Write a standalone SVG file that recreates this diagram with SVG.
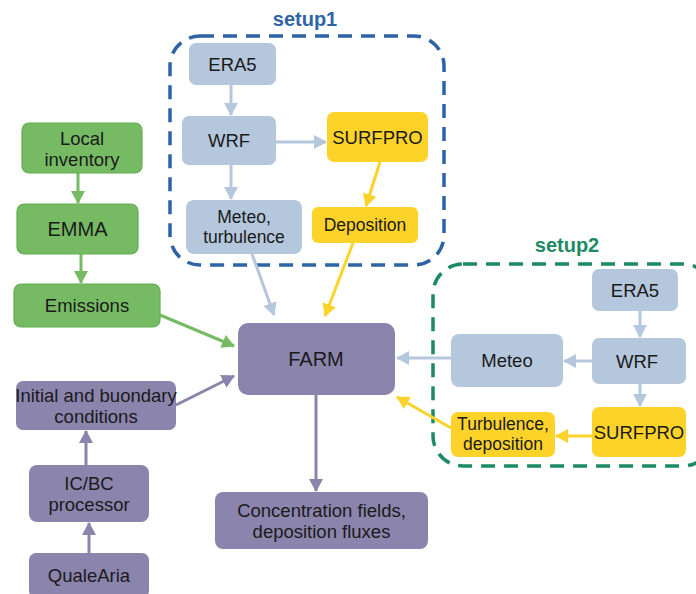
<svg xmlns="http://www.w3.org/2000/svg" width="696" height="594" viewBox="0 0 696 594">
<style>
text{font-family:"Liberation Sans",Arial,sans-serif;font-size:18.5px;fill:#1a1a1a;text-anchor:middle;dominant-baseline:central}
.t{font-weight:bold;font-size:20px}
.lb{fill:#b4c7dc}
.yl{fill:#fdd32a}
.gr{fill:#76bb64;stroke:#5fae4e;stroke-width:1.2}
.pu{fill:#8b84ad}
.cb{stroke:#b4c7dc;stroke-width:3;fill:none}
.cy{stroke:#fdd32a;stroke-width:3;fill:none}
.cg{stroke:#76bb64;stroke-width:3;fill:none}
.cp{stroke:#8b84ad;stroke-width:3;fill:none}
.dash{fill:none;stroke-width:3.5;stroke-dasharray:14 9}
</style>
<defs>
<marker id="ab" markerUnits="userSpaceOnUse" markerWidth="16" markerHeight="16" refX="12" refY="7" orient="auto"><path d="M0,0 L13,7 L0,14 Z" fill="#b4c7dc"/></marker>
<marker id="ay" markerUnits="userSpaceOnUse" markerWidth="16" markerHeight="16" refX="12" refY="7" orient="auto"><path d="M0,0 L13,7 L0,14 Z" fill="#fdd32a"/></marker>
<marker id="ag" markerUnits="userSpaceOnUse" markerWidth="16" markerHeight="16" refX="12" refY="7" orient="auto"><path d="M0,0 L13,7 L0,14 Z" fill="#76bb64"/></marker>
<marker id="ap" markerUnits="userSpaceOnUse" markerWidth="16" markerHeight="16" refX="12" refY="7" orient="auto"><path d="M0,0 L13,7 L0,14 Z" fill="#8b84ad"/></marker>
</defs>
<rect width="696" height="594" fill="#ffffff"/>

<g id="setup1">
<rect class="dash" x="170" y="36" width="274" height="229" rx="30" stroke="#2e64a6"/>
<text class="t" x="305" y="19" style="fill:#2e64a6">setup1</text>
</g>
<g id="setup2">
<rect class="dash" x="433" y="264" width="280" height="202" rx="30" stroke="#1c8a66"/>
<text class="t" x="567" y="245" style="fill:#1c8a66">setup2</text>
</g>

<g id="connectors">
<line class="cb" x1="231" y1="85" x2="231" y2="115" marker-end="url(#ab)"/>
<line class="cb" x1="276" y1="142" x2="326" y2="142" marker-end="url(#ab)"/>
<line class="cb" x1="231" y1="165" x2="231" y2="199" marker-end="url(#ab)"/>
<line class="cy" x1="380" y1="162" x2="366" y2="206" marker-end="url(#ay)"/>
<line class="cb" x1="252" y1="254" x2="274" y2="315" marker-end="url(#ab)"/>
<line class="cy" x1="353" y1="243" x2="325" y2="316" marker-end="url(#ay)"/>
<line class="cg" x1="78" y1="173" x2="78" y2="203" marker-end="url(#ag)"/>
<line class="cg" x1="81" y1="254" x2="81" y2="283" marker-end="url(#ag)"/>
<line class="cg" x1="160" y1="315" x2="234" y2="346" marker-end="url(#ag)"/>
<line class="cp" x1="176" y1="405" x2="234" y2="376" marker-end="url(#ap)"/>
<line class="cp" x1="86" y1="465" x2="86" y2="431" marker-end="url(#ap)"/>
<line class="cp" x1="89" y1="553" x2="89" y2="523" marker-end="url(#ap)"/>
<line class="cp" x1="316" y1="395" x2="316" y2="491" marker-end="url(#ap)"/>
<line class="cb" x1="640" y1="311" x2="640" y2="337" marker-end="url(#ab)"/>
<line class="cb" x1="592" y1="361" x2="564" y2="361" marker-end="url(#ab)"/>
<line class="cb" x1="640" y1="384" x2="640" y2="406" marker-end="url(#ab)"/>
<line class="cy" x1="592" y1="436" x2="556" y2="436" marker-end="url(#ay)"/>
<line class="cb" x1="451" y1="358" x2="397" y2="358" marker-end="url(#ab)"/>
<line class="cy" x1="451" y1="428" x2="397" y2="397" marker-end="url(#ay)"/>
</g>

<g id="era5-1"><rect class="lb" x="189" y="43" width="87" height="42" rx="7"/><text x="232.5" y="64">ERA5</text></g>
<g id="wrf-1"><rect class="lb" x="182" y="116" width="94" height="49" rx="7"/><text x="229" y="140.5">WRF</text></g>
<g id="surfpro-1"><rect class="yl" x="327" y="112" width="101" height="50" rx="7"/><text x="377.5" y="137">SURFPRO</text></g>
<g id="meteo-turb"><rect class="lb" x="186" y="200" width="116" height="54" rx="8"/><text x="244" y="217" style="font-size:17.5px">Meteo,</text><text x="244" y="237" style="font-size:17.5px">turbulence</text></g>
<g id="deposition"><rect class="yl" x="312" y="207" width="106" height="36" rx="6"/><text x="365" y="225" style="font-size:17.5px">Deposition</text></g>

<g id="local-inventory"><rect class="gr" x="22" y="123" width="120" height="50" rx="7"/><text x="82" y="138">Local</text><text x="82" y="159">inventory</text></g>
<g id="emma"><rect class="gr" x="17" y="204" width="121" height="50" rx="7"/><text x="77.5" y="229" style="font-size:20px">EMMA</text></g>
<g id="emissions"><rect class="gr" x="14" y="284" width="146" height="43" rx="7"/><text x="87" y="305.5">Emissions</text></g>

<g id="farm"><rect class="pu" x="238" y="323" width="157" height="72" rx="10"/><text x="316" y="359" style="font-size:20px">FARM</text></g>
<g id="init-bc"><rect class="pu" x="16" y="381" width="160" height="49" rx="7"/><text x="96" y="395">Initial and buondary</text><text x="96" y="416">conditions</text></g>
<g id="icbc-proc"><rect class="pu" x="29" y="465" width="120" height="57" rx="8"/><text x="89" y="483">IC/BC</text><text x="89" y="504">processor</text></g>
<g id="qualearia"><rect class="pu" x="29" y="553" width="120" height="45" rx="7"/><text x="89" y="575">QualeAria</text></g>
<g id="concentration"><rect class="pu" x="215" y="492" width="213" height="57" rx="8"/><text x="321.5" y="510">Concentration fields,</text><text x="321.5" y="531">deposition fluxes</text></g>

<g id="era5-2"><rect class="lb" x="592" y="269" width="86" height="42" rx="7"/><text x="635" y="290">ERA5</text></g>
<g id="wrf-2"><rect class="lb" x="592" y="338" width="94" height="46" rx="7"/><text x="637" y="361">WRF</text></g>
<g id="meteo-2"><rect class="lb" x="451" y="334" width="112" height="53" rx="8"/><text x="507" y="360.5">Meteo</text></g>
<g id="surfpro-2"><rect class="yl" x="592" y="407" width="94" height="50" rx="7"/><text x="639" y="432">SURFPRO</text></g>
<g id="turb-dep"><rect class="yl" x="451" y="412" width="104" height="45" rx="7"/><text x="503" y="424" style="font-size:17.5px">Turbulence,</text><text x="503" y="444" style="font-size:17.5px">deposition</text></g>
</svg>
